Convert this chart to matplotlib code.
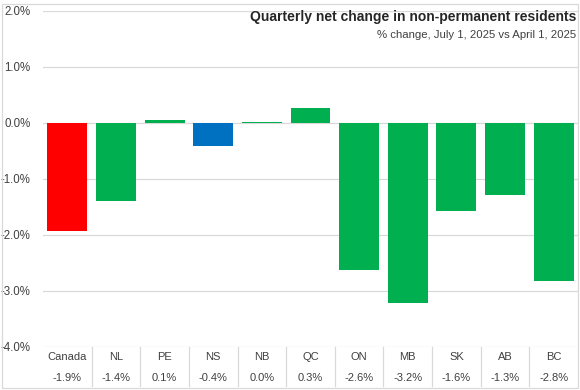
import matplotlib
matplotlib.use("Agg")
import matplotlib.pyplot as plt
from matplotlib.patches import Rectangle
from matplotlib.lines import Line2D

regions = ["Canada", "NL", "PE", "NS", "NB", "QC", "ON", "MB", "SK", "AB", "BC"]
changes = [-1.92, -1.40, 0.06, -0.41, 0.02, 0.27, -2.62, -3.22, -1.58, -1.29, -2.83]
value_labels = ["-1.9%", "-1.4%", "0.1%", "-0.4%", "0.0%", "0.3%",
                "-2.6%", "-3.2%", "-1.6%", "-1.3%", "-2.8%"]
yticks = [2.0, 1.0, 0.0, -1.0, -2.0, -3.0, -4.0]

bar_colors = ["#FF0000", "#00B050", "#00B050", "#0070C0", "#00B050", "#00B050",
              "#00B050", "#00B050", "#00B050", "#00B050", "#00B050"]

plt.rcParams['font.family'] = ['Liberation Sans', 'DejaVu Sans']

fig = plt.figure(figsize=(5.8, 3.9), dpi=100)
ax = fig.add_axes([0.0741, 0.1103, 0.9225, 0.8615])

x = list(range(len(regions)))
ax.bar(x, changes, width=0.82, color=bar_colors, zorder=3)

ax.set_xlim(-0.5, len(regions) - 0.5)
ax.set_ylim(-4.0, 2.0)
ax.set_yticks(yticks)
ax.set_yticklabels([f"{v:.1f}%" for v in yticks], fontsize=8.3, color="#404040")
ax.tick_params(axis="y", length=0, pad=9)
ax.set_xticks([])
ax.grid(axis="y", color="#D9D9D9", linewidth=0.9, zorder=0)
for s in ax.spines.values():
    s.set_visible(False)

# data table under the axis
for i, (name, lab) in enumerate(zip(regions, value_labels)):
    ax.annotate(name, xy=(i, 0), xycoords=("data", "axes fraction"),
                xytext=(0, -7.5), textcoords="offset points",
                ha="center", va="center", fontsize=8, color="#404040",
                annotation_clip=False)
    ax.annotate(lab, xy=(i, 0), xycoords=("data", "axes fraction"),
                xytext=(0, -22), textcoords="offset points",
                ha="center", va="center", fontsize=8, color="#404040",
                annotation_clip=False)
for i in range(1, len(regions)):
    xf = i / len(regions)
    ax.add_line(Line2D([xf, xf], [0, -0.115], transform=ax.transAxes,
                       color="#D9D9D9", linewidth=0.9, clip_on=False))

fig.text(0.993, 0.957, "Quarterly net change in non-permanent residents",
         ha="right", va="center", fontsize=10, fontweight="bold", color="#262626")
fig.text(0.993, 0.91, "% change, July 1, 2025 vs April 1, 2025",
         ha="right", va="center", fontsize=8.2, color="#404040")

fig.add_artist(Rectangle((0.004, 0.006), 0.992, 0.984, transform=fig.transFigure,
                         fill=False, edgecolor="#D9D9D9", linewidth=0.9))

fig.savefig("out.png", dpi=100)
